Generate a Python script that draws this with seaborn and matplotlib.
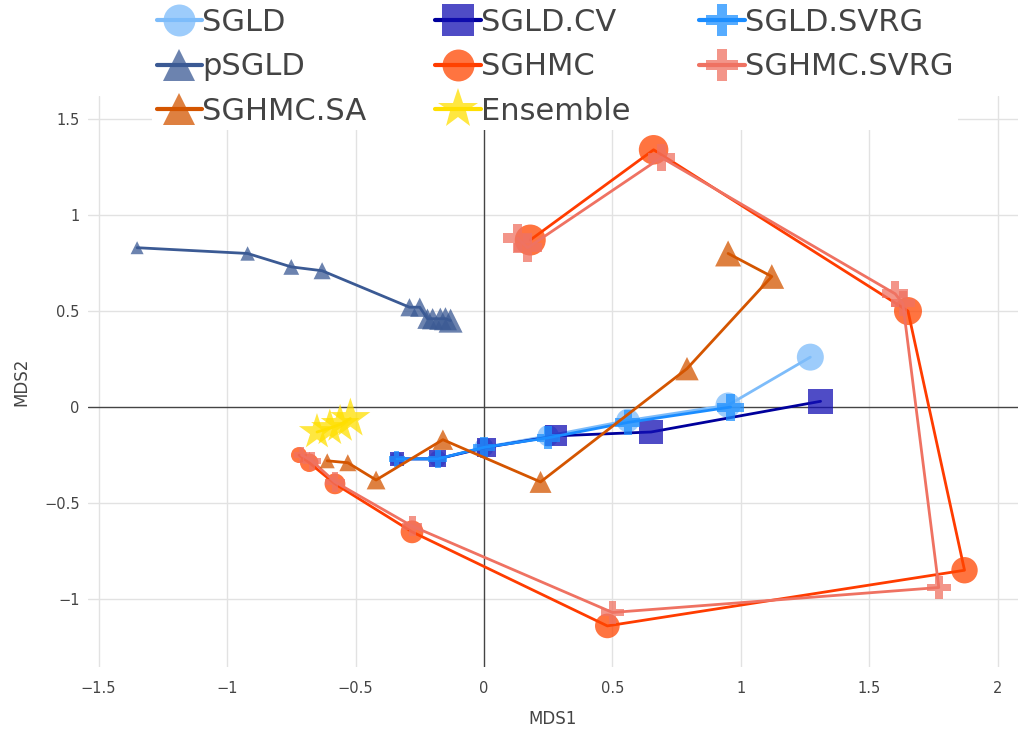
import matplotlib
matplotlib.use("Agg")
import matplotlib.pyplot as plt
from matplotlib.lines import Line2D
from matplotlib.colors import to_rgba
import numpy as np
import pandas as pd
import seaborn as sns

# MDS coordinates of each sampler's trajectory (points in run order)
sgld_x = [-0.34, -0.18, 0.00, 0.25, 0.56, 0.95, 1.27]
sgld_y = [-0.27, -0.27, -0.21, -0.15, -0.07, 0.01, 0.26]

sgld_cv_x = [-0.34, -0.18, 0.01, 0.28, 0.65, 1.31]
sgld_cv_y = [-0.27, -0.27, -0.21, -0.15, -0.13, 0.03]

sgld_svrg_x = [-0.34, -0.18, 0.00, 0.25, 0.56, 0.96]
sgld_svrg_y = [-0.27, -0.27, -0.21, -0.16, -0.08, 0.00]

psgld_x = [-1.35, -0.92, -0.75, -0.63, -0.29, -0.25, -0.22, -0.20, -0.17, -0.15, -0.13]
psgld_y = [0.83, 0.80, 0.73, 0.71, 0.52, 0.52, 0.46, 0.46, 0.46, 0.46, 0.45]

sghmc_x = [-0.72, -0.68, -0.58, -0.28, 0.48, 1.87, 1.65, 0.66, 0.18]
sghmc_y = [-0.25, -0.29, -0.40, -0.65, -1.14, -0.85, 0.50, 1.34, 0.87]

sghmc_svrg_x = [-0.71, -0.67, -0.58, -0.28, 0.50, 1.77, 1.63, 1.60, 0.69, 0.17, 0.13]
sghmc_svrg_y = [-0.25, -0.28, -0.39, -0.62, -1.07, -0.94, 0.54, 0.59, 1.30, 0.83, 0.88]

sghmc_sa_x = [-0.61, -0.53, -0.42, -0.16, 0.22, 0.79, 1.12, 0.95]
sghmc_sa_y = [-0.28, -0.29, -0.38, -0.17, -0.39, 0.20, 0.68, 0.80]

ensemble_x = [-0.65, -0.60, -0.56, -0.52]
ensemble_y = [-0.13, -0.11, -0.09, -0.06]

methods = ["SGLD", "SGLD.CV", "SGLD.SVRG", "pSGLD", "SGHMC",
           "SGHMC.SVRG", "SGHMC.SA", "Ensemble"]
coords = {
    "SGLD": (sgld_x, sgld_y),
    "SGLD.CV": (sgld_cv_x, sgld_cv_y),
    "SGLD.SVRG": (sgld_svrg_x, sgld_svrg_y),
    "pSGLD": (psgld_x, psgld_y),
    "SGHMC": (sghmc_x, sghmc_y),
    "SGHMC.SVRG": (sghmc_svrg_x, sghmc_svrg_y),
    "SGHMC.SA": (sghmc_sa_x, sghmc_sa_y),
    "Ensemble": (ensemble_x, ensemble_y),
}

# style per method: line colour, marker colour, marker, marker diameter range (px)
styles = {
    "SGLD":       ("#7dbcfa", "#7dbcfa", "o", (14, 27)),
    "SGLD.CV":    ("#00009c", "#1410b4", "s", (14, 25)),
    "SGLD.SVRG":  ("#1a8cff", "#1e90ff", "P", (16, 27)),
    "pSGLD":      ("#3b5a94", "#3b5a94", "^", (13, 24)),
    "SGHMC":      ("#ff3c00", "#ff4500", "o", (16, 31)),
    "SGHMC.SVRG": ("#ef7262", "#ef7262", "P", (16, 29)),
    "SGHMC.SA":   ("#d45500", "#d45500", "^", (15, 26)),
    "Ensemble":   ("#ffdf00", "#ffdf00", "*", (38, 42)),
}

rows = []
for m in methods:
    xs, ys = coords[m]
    for i, (x, y) in enumerate(zip(xs, ys)):
        rows.append({"method": m, "MDS1": x, "MDS2": y, "step": i})
df = pd.DataFrame(rows)

sns.set_theme(style="white")
plt.rcParams["font.family"] = ["DejaVu Sans"]

fig = plt.figure(figsize=(10.2, 7.32), dpi=100)
ax = fig.add_axes([0.0863, 0.0888, 0.9117, 0.780])

PX = 0.72  # points per pixel at 100 dpi
alpha = 0.75

for k, m in enumerate(methods):
    sub = df[df["method"] == m]
    lc, mc, mk, (dmin, dmax) = styles[m]
    sns.lineplot(data=sub, x="MDS1", y="MDS2", sort=False, estimator=None,
                 color=lc, linewidth=2.0, ax=ax, zorder=3 + 2 * k)
    n = len(sub)
    sns.scatterplot(data=sub, x="MDS1", y="MDS2", size="step",
                    sizes=((dmin * PX) ** 2, (dmax * PX) ** 2),
                    size_norm=(0, max(n - 1, 1)),
                    marker=mk, color=mc, alpha=alpha, linewidth=0,
                    legend=False, ax=ax, zorder=4 + 2 * k)

ax.set_xlim(-1.541, 2.078)
ax.set_ylim(-1.354, 1.620)

xt = [-1.5, -1, -0.5, 0, 0.5, 1, 1.5, 2]
yt = [-1, -0.5, 0, 0.5, 1, 1.5]
fmt = lambda v: f"{v:g}".replace("-", "\u2212")
ax.set_xticks(xt)
ax.set_xticklabels([fmt(v) for v in xt])
ax.set_yticks(yt)
ax.set_yticklabels([fmt(v) for v in yt])
ax.tick_params(axis="both", length=0, labelsize=10.5, colors="#444444")
ax.tick_params(axis="x", pad=10)
ax.tick_params(axis="y", pad=6)

for v in xt:
    if v != 0:
        ax.axvline(v, color="#e2e2e2", lw=1.0, zorder=1)
for v in yt:
    if v != 0:
        ax.axhline(v, color="#e2e2e2", lw=1.0, zorder=1)
ax.axvline(0, color="#444444", lw=1.0, zorder=2)
ax.axhline(0, color="#444444", lw=1.0, zorder=2)

for s in ax.spines.values():
    s.set_visible(False)

ax.set_xlabel("MDS1", fontsize=12, color="#444444", labelpad=10)
ax.set_ylabel("MDS2", fontsize=12, color="#444444", labelpad=10)

# legend entries laid out row by row across three columns
ncol = 3
order = [methods[r * ncol + c] for c in range(ncol)
         for r in range(3) if r * ncol + c < len(methods)]
handles = []
for m in order:
    lc, mc, mk, _ = styles[m]
    ms = 23 if mk != "*" else 30
    handles.append(Line2D([], [], color=lc, lw=3, marker=mk, markersize=ms,
                          markerfacecolor=to_rgba(mc, alpha),
                          markeredgewidth=0))
leg = fig.legend(handles, order, ncol=ncol, loc="upper left",
                 bbox_to_anchor=(0.134, 1.016), frameon=True, fontsize=22,
                 handlelength=1.5, handletextpad=0.0, columnspacing=2.25,
                 labelspacing=0.5, borderpad=0.15)
leg.get_frame().set_facecolor("white")
leg.get_frame().set_edgecolor("none")
leg.get_frame().set_alpha(1)
for t in leg.get_texts():
    t.set_color("#444444")

fig.savefig("out.png", dpi=100)
